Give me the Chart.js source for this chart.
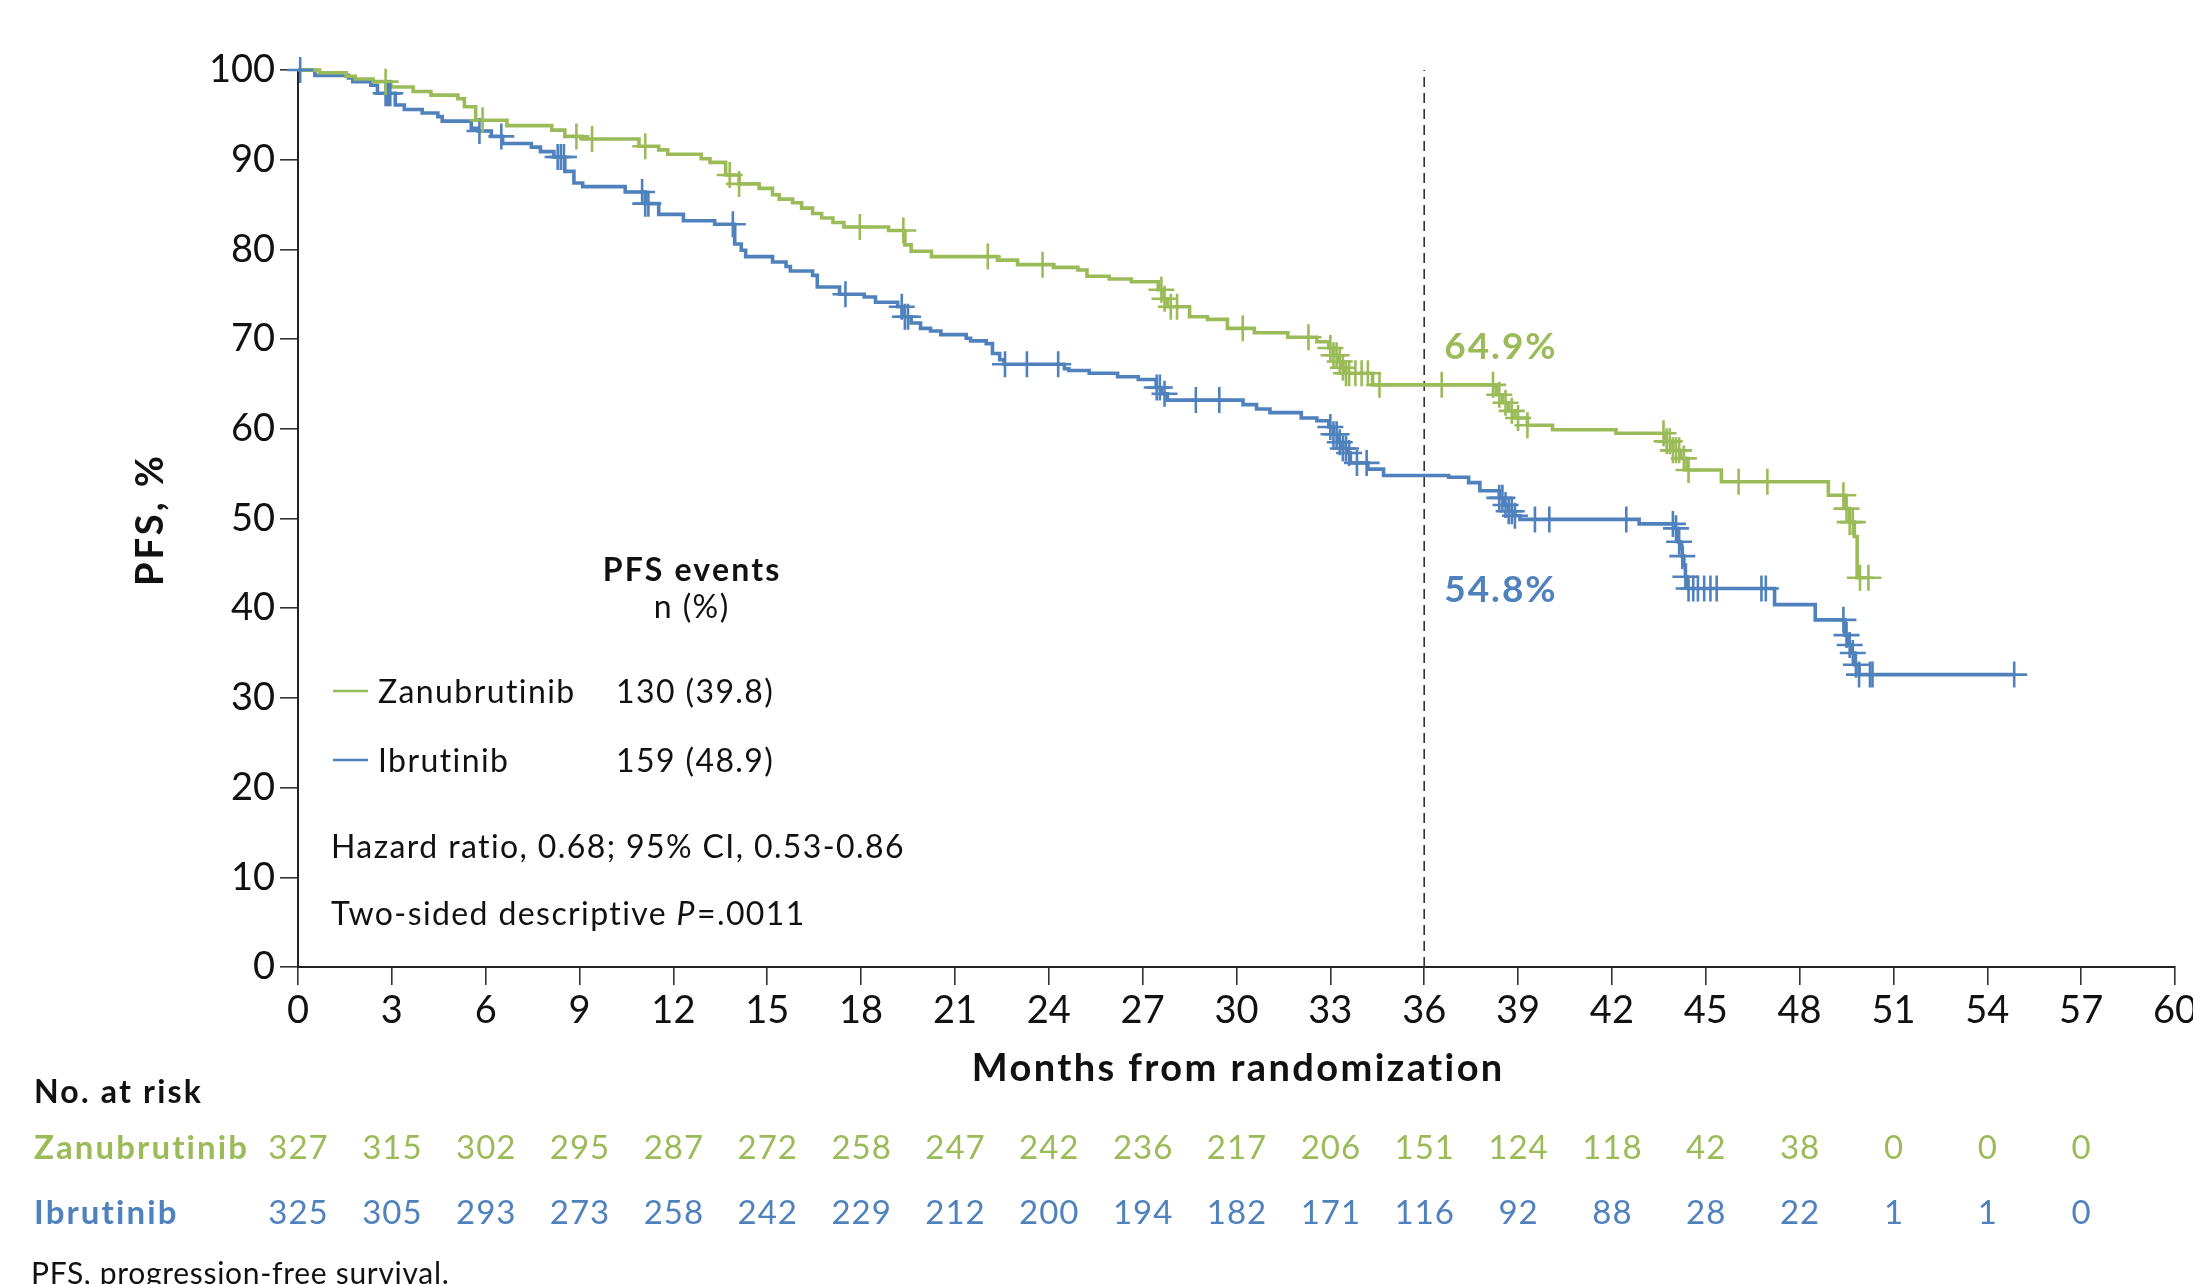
<!DOCTYPE html>
<html>
<head>
<meta charset="utf-8">
<title>PFS, Zanubrutinib vs Ibrutinib</title>
<script src="https://cdn.jsdelivr.net/npm/chart.js@4.4.0/dist/chart.umd.min.js"></script>
<style>
  html, body { margin: 0; padding: 0; background: #ffffff; overflow: hidden; }
  #wrap { width: 2193px; height: 1284px; position: relative; }
  canvas { display: block; }
</style>
</head>
<body>
<div id="wrap"><canvas id="km" width="2193" height="1284"></canvas></div>
<script>
// ---- Kaplan-Meier step data (month of step, PFS % after the step) ----
const zanuTimes = [0, 0.69, 1.54, 1.83, 2.40, 2.97, 3.68, 4.25, 5.11, 5.32, 5.68, 6.68, 8.11, 8.53, 9.10, 10.90, 11.53, 11.82, 12.89, 13.17, 13.67, 14.10, 14.74, 15.17, 15.38, 15.81, 16.10, 16.45, 16.74, 17.10, 17.45, 18.88, 19.40, 19.60, 20.25, 22.36, 23.00, 24.15, 24.93, 25.22, 25.93, 26.64, 27.50, 27.65, 27.79, 28.50, 29.07, 29.71, 30.57, 31.64, 32.57, 32.95, 33.10, 33.25, 33.40, 33.49, 34.35, 38.30, 38.50, 38.70, 38.90, 39.30, 40.10, 42.13, 43.70, 43.95, 44.20, 44.40, 45.50, 48.92, 49.47, 49.60, 49.75, 49.84, 50.20];
const zanuPFS = [100, 99.7, 99.3, 99.0, 98.7, 98.1, 97.6, 97.2, 96.8, 95.9, 94.4, 93.8, 93.3, 92.6, 92.3, 91.5, 91.1, 90.6, 90.1, 89.7, 88.3, 87.3, 86.8, 86.1, 85.6, 85.2, 84.6, 84.0, 83.5, 83.0, 82.5, 82.1, 80.5, 79.8, 79.2, 78.8, 78.3, 78.0, 77.7, 77.0, 76.7, 76.4, 75.5, 74.5, 73.6, 72.5, 72.2, 71.2, 70.7, 70.2, 69.7, 69.0, 68.2, 67.5, 66.8, 66.2, 64.9, 63.8, 62.9, 62.0, 61.2, 60.4, 59.9, 59.5, 58.6, 57.6, 56.7, 55.4, 54.1, 52.6, 51.1, 49.6, 48.0, 43.4, 43.4];
const zanuCensored = [2.8, 5.9, 8.9, 9.4, 11.1, 13.8, 14.1, 17.96, 19.35, 22.05, 23.8, 27.6, 27.7, 27.9, 28.1, 30.2, 32.3, 33.0, 33.1, 33.2, 33.3, 33.4, 33.5, 33.6, 33.8, 34.0, 34.2, 34.57, 36.56, 38.2, 38.4, 38.6, 38.8, 39.0, 39.3, 43.65, 43.75, 43.85, 43.95, 44.05, 44.15, 44.3, 44.45, 46.05, 46.97, 49.4, 49.5, 49.6, 49.7, 49.93, 50.2];

const ibruTimes = [0, 0.54, 1.61, 1.75, 2.33, 2.54, 3.11, 3.40, 3.97, 4.47, 4.61, 5.54, 5.75, 6.18, 6.54, 7.46, 7.75, 8.18, 8.53, 8.82, 9.10, 10.46, 11.10, 11.53, 12.32, 13.32, 13.96, 14.17, 14.31, 15.17, 15.60, 15.74, 16.45, 16.60, 17.31, 18.10, 18.46, 19.17, 19.31, 19.60, 19.90, 20.22, 20.55, 21.36, 21.50, 22.00, 22.20, 22.43, 22.57, 24.50, 24.64, 25.29, 26.20, 26.86, 27.43, 27.60, 27.79, 30.21, 30.64, 31.07, 32.07, 32.57, 32.95, 33.10, 33.25, 33.40, 33.55, 33.64, 34.20, 34.70, 36.78, 37.42, 37.78, 38.40, 38.55, 38.70, 38.90, 39.06, 42.87, 44.00, 44.10, 44.20, 44.25, 44.30, 44.35, 44.40, 47.20, 48.50, 49.45, 49.55, 49.65, 49.75, 49.90, 54.86];
const ibruPFS = [100, 99.4, 99.1, 98.7, 98.3, 97.4, 96.1, 95.6, 95.2, 94.8, 94.3, 93.5, 93.2, 92.6, 91.8, 91.4, 90.9, 90.3, 88.7, 87.4, 87.0, 86.4, 85.1, 83.9, 83.2, 82.8, 80.6, 79.9, 79.2, 78.6, 78.1, 77.6, 77.1, 75.8, 75.0, 74.7, 74.1, 73.6, 72.5, 71.8, 71.2, 70.9, 70.5, 70.1, 69.8, 69.5, 68.4, 67.7, 67.2, 66.7, 66.5, 66.2, 65.8, 65.5, 64.6, 63.9, 63.2, 62.7, 62.2, 61.8, 61.2, 60.9, 60.2, 59.4, 58.5, 57.8, 57.3, 56.2, 55.5, 54.8, 54.6, 54.0, 53.1, 52.3, 51.5, 50.8, 50.3, 49.9, 49.4, 48.9, 47.4, 46.7, 45.8, 44.8, 43.5, 42.2, 40.4, 38.7, 37.0, 35.9, 35.0, 33.7, 32.6, 32.6];
const ibruCensored = [0.07, 2.8, 2.85, 2.9, 2.95, 5.8, 6.5, 8.3, 8.4, 8.5, 11.0, 11.1, 11.2, 13.9, 17.5, 19.3, 19.4, 19.5, 22.6, 23.3, 24.3, 27.45, 27.55, 27.7, 28.7, 29.45, 33.0, 33.1, 33.2, 33.3, 33.4, 33.5, 33.6, 33.85, 34.16, 38.4, 38.5, 38.6, 38.7, 38.8, 38.9, 39.54, 40.0, 42.46, 43.95, 44.05, 44.15, 44.25, 44.35, 44.45, 44.6, 44.75, 44.95, 45.15, 45.35, 46.78, 46.92, 49.4, 49.5, 49.6, 49.7, 49.8, 49.9, 50.25, 50.33, 54.86];

// ---- Landmark and summary text ----
const landmarkMonth = 36;
const landmarkLabels = ['64.9%', '54.8%'];
const armNames = ['Zanubrutinib', 'Ibrutinib'];
const pfsEvents = ['130 (39.8)', '159 (48.9)'];
const eventsHeader = ['PFS events', 'n (%)'];
const hazardText = 'Hazard ratio, 0.68; 95% CI, 0.53-0.86';
const pValueParts = ['Two-sided descriptive ', 'P', '=.0011'];

// ---- Axes ----
const xAxisTitle = 'Months from randomization';
const yAxisTitle = 'PFS, %';
const xMax = 60, xStep = 3;
const yMax = 100, yStep = 10;

// ---- Number at risk ----
const riskTitle = 'No. at risk';
const riskMonths = [0, 3, 6, 9, 12, 15, 18, 21, 24, 27, 30, 33, 36, 39, 42, 45, 48, 51, 54, 57];
const zanuAtRisk = [327, 315, 302, 295, 287, 272, 258, 247, 242, 236, 217, 206, 151, 124, 118, 42, 38, 0, 0, 0];
const ibruAtRisk = [325, 305, 293, 273, 258, 242, 229, 212, 200, 194, 182, 171, 116, 92, 88, 28, 22, 1, 1, 0];
const footnote = 'PFS, progression-free survival.';

// ---- Styling ----
const GREEN = '#9BBB59';
const BLUE = '#4F81BD';
const INK = '#111111';
const FAMILY = 'Lato, "Open Sans", sans-serif';

function stepPoints(times, values) {
  return times.map((t, i) => ({ x: t, y: values[i] }));
}
function levelAt(times, values, t) {
  let v = values[0];
  for (let i = 0; i < times.length; i++) {
    if (times[i] <= t) v = values[i]; else break;
  }
  return v;
}
function censorPoints(cens, times, values) {
  return cens.map(t => ({ x: t, y: levelAt(times, values, t) }));
}

function fontStr(size, weight, style) {
  return `${style || 'normal'} ${weight || 400} ${size}px ${FAMILY}`;
}
// draws text with its cap-height centred on yc; returns the advance width
function capText(ctx, str, x, yc, size, weight, color, align, spacing, style) {
  const ls = spacing || 0;
  ctx.font = fontStr(size, weight, style);
  ctx.letterSpacing = ls + 'px';
  ctx.fillStyle = color;
  ctx.textAlign = align || 'left';
  ctx.textBaseline = 'alphabetic';
  const shift = align === 'center' ? ls / 2 : (align === 'right' ? ls : 0);
  ctx.fillText(str, x + shift, yc + size * 0.36);
  const w = ctx.measureText(str).width;
  ctx.letterSpacing = '0px';
  return w;
}

const annotations = {
  id: 'kmAnnotations',
  afterDraw(chart) {
    const ctx = chart.ctx;
    const xs = chart.scales.x;
    ctx.save();

    // axis titles
    capText(ctx, xAxisTitle, 1237, 1067, 38, 700, INK, 'center', 2.4);
    ctx.save();
    ctx.translate(149, 521);
    ctx.rotate(-Math.PI / 2);
    capText(ctx, yAxisTitle, 0, 0, 38, 700, INK, 'center', 3);
    ctx.restore();

    // landmark values
    const lx = xs.getPixelForValue(landmarkMonth) + 20;
    capText(ctx, landmarkLabels[0], lx, 346, 37, 700, GREEN, 'left', 2);
    capText(ctx, landmarkLabels[1], lx, 589, 37, 700, BLUE, 'left', 2);

    // events legend
    capText(ctx, eventsHeader[0], 691, 569, 32, 700, INK, 'center', 2.2);
    capText(ctx, eventsHeader[1], 691, 606, 32, 400, INK, 'center', 1.4);
    const rowsY = [691, 760];
    const colors = [GREEN, BLUE];
    for (let i = 0; i < 2; i++) {
      ctx.strokeStyle = colors[i];
      ctx.lineWidth = 2.5;
      ctx.beginPath();
      ctx.moveTo(333, rowsY[i]);
      ctx.lineTo(368, rowsY[i]);
      ctx.stroke();
      capText(ctx, armNames[i], 378, rowsY[i], 32, 400, INK, 'left', 1.4);
      capText(ctx, pfsEvents[i], 616, rowsY[i], 32, 400, INK, 'left', 1.4);
    }
    capText(ctx, hazardText, 331, 846, 32, 400, INK, 'left', 1.4);
    let px = 331;
    px += capText(ctx, pValueParts[0], px, 913, 32, 400, INK, 'left', 1.4);
    px += capText(ctx, pValueParts[1], px, 913, 32, 400, INK, 'left', 1.4, 'italic');
    capText(ctx, pValueParts[2], px + 1, 913, 32, 400, INK, 'left', 1.4);

    // number at risk table
    capText(ctx, riskTitle, 34, 1091, 32, 700, INK, 'left', 2.2);
    const tableRows = [[armNames[0], zanuAtRisk, GREEN, 1147], [armNames[1], ibruAtRisk, BLUE, 1212]];
    for (const [name, counts, col, y] of tableRows) {
      capText(ctx, name, 34, y, 33, 700, col, 'left', 2.1);
      riskMonths.forEach((m, i) => {
        capText(ctx, String(counts[i]), xs.getPixelForValue(m), y, 33, 400, col, 'center', 1);
      });
    }
    capText(ctx, footnote, 31, 1273, 30, 400, INK, 'left', 0.7);
    ctx.restore();
  }
};

const tickFont = { family: FAMILY, size: 38, weight: 400 };

new Chart(document.getElementById('km'), {
  type: 'scatter',
  data: {
    datasets: [
      {
        label: armNames[0] + ' censored',
        data: censorPoints(zanuCensored, zanuTimes, zanuPFS),
        pointStyle: 'cross', pointRadius: 13, borderColor: GREEN, borderWidth: 2.6,
        showLine: false, clip: false, order: 1
      },
      {
        label: armNames[1] + ' censored',
        data: censorPoints(ibruCensored, ibruTimes, ibruPFS),
        pointStyle: 'cross', pointRadius: 13, borderColor: BLUE, borderWidth: 2.6,
        showLine: false, clip: false, order: 1
      },
      {
        label: armNames[0],
        data: stepPoints(zanuTimes, zanuPFS),
        showLine: true, stepped: 'before', borderColor: GREEN, borderWidth: 3.6,
        pointRadius: 0, clip: false, order: 2
      },
      {
        label: armNames[1],
        data: stepPoints(ibruTimes, ibruPFS),
        showLine: true, stepped: 'before', borderColor: BLUE, borderWidth: 3.6,
        pointRadius: 0, clip: false, order: 2
      },
      {
        label: 'Landmark',
        data: [{ x: landmarkMonth, y: 0 }, { x: landmarkMonth, y: yMax }],
        showLine: true, borderColor: '#333333', borderWidth: 1.6, borderDash: [10, 6],
        pointRadius: 0, clip: false, order: 3
      }
    ]
  },
  options: {
    responsive: false,
    animation: false,
    devicePixelRatio: 1,
    events: [],
    layout: { padding: { left: 0, top: 70, right: 18, bottom: 0 } },
    plugins: { legend: { display: false }, tooltip: { enabled: false } },
    scales: {
      x: {
        type: 'linear', min: 0, max: xMax,
        ticks: { stepSize: xStep, font: tickFont, color: INK, padding: 3, maxRotation: 0, autoSkip: false },
        grid: { drawOnChartArea: false, drawTicks: true, tickLength: 18, color: '#333333', lineWidth: 1.6 },
        border: { display: true, color: '#222222', width: 2 },
        afterFit(scale) { scale.height = 317; scale.paddingLeft = 0; scale.paddingRight = 0; }
      },
      y: {
        type: 'linear', min: 0, max: yMax,
        ticks: { stepSize: yStep, font: tickFont, color: INK, padding: 5 },
        grid: { drawOnChartArea: false, drawTicks: true, tickLength: 18, color: '#333333', lineWidth: 1.6 },
        border: { display: true, color: '#222222', width: 2 },
        afterFit(scale) { scale.width = 298; scale.paddingTop = 0; scale.paddingBottom = 0; }
      }
    }
  },
  plugins: [annotations]
});
</script>
</body>
</html>
